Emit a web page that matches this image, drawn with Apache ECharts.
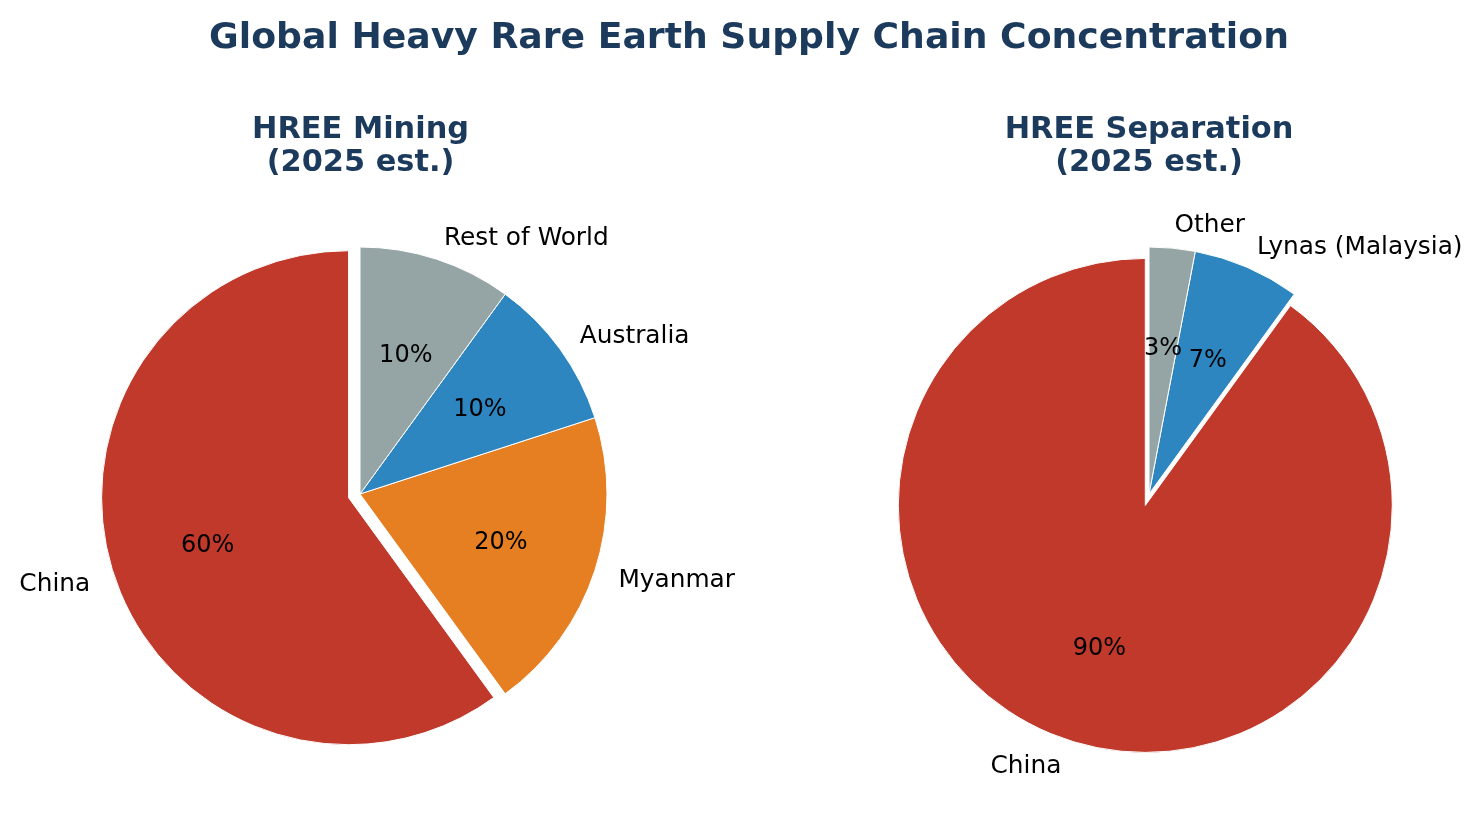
<!DOCTYPE html>
<html>
<head>
<meta charset="utf-8">
<script src="https://cdn.jsdelivr.net/npm/echarts@6/dist/echarts.min.js"></script>
<style>
html,body{margin:0;padding:0;background:#fff;}
#chart{width:1484px;height:822px;}
</style>
</head>
<body>
<div id="chart"></div>
<script>
const mainTitle = 'Global Heavy Rare Earth Supply Chain Concentration';
const miningTitle = 'HREE Mining\n(2025 est.)';
const separationTitle = 'HREE Separation\n(2025 est.)';

const miningCategories = ['China', 'Myanmar', 'Australia', 'Rest of World'];
const miningValues = [60, 20, 10, 10];
const miningColors = ['#c0392b', '#e67e22', '#2e86c1', '#95a5a6'];
const miningExploded = ['China'];

const separationCategories = ['China', 'Lynas (Malaysia)', 'Other'];
const separationValues = [90, 7, 3];
const separationColors = ['#c0392b', '#2e86c1', '#95a5a6'];
const separationExploded = ['China'];

const FONT = 'DejaVu Sans';
const R = 247;
const EXPLODE = 12;

function buildData(cats, vals, colors, exploded, transparent) {
  return cats.map((c, i) => ({
    name: c,
    value: vals[i],
    selected: exploded.indexOf(c) >= 0,
    itemStyle: transparent ? { color: 'rgba(0,0,0,0)', borderWidth: 0 } : { color: colors[i] }
  }));
}

function pieSeries(center, cats, vals, colors, exploded) {
  return [
    {
      type: 'pie',
      center: center,
      radius: [0, R],
      startAngle: 90,
      clockwise: false,
      selectedMode: 'multiple',
      selectedOffset: EXPLODE,
      avoidLabelOverlap: false,
      animation: false,
      emphasis: { disabled: true },
      itemStyle: { borderColor: '#ffffff', borderWidth: 1 },
      label: {
        show: true,
        position: 'outside',
        formatter: p => '{t|' + p.name + '}',
        rich: {
          t: { fontFamily: FONT, fontSize: 24.8, color: '#000', padding: [5, 0, 0, 0] }
        },
        fontFamily: FONT,
        fontSize: 24.8,
        color: '#000',
        distanceToLabelLine: 0,
        overflow: 'none'
      },
      labelLine: { show: false, length: R * 0.1, length2: 0 },
      data: buildData(cats, vals, colors, exploded, false),
      z: 2
    },
    {
      type: 'pie',
      center: center,
      // inside labels sit at (r0 + r) / 2 + 3 px; this places them at 0.6 r
      radius: [R * 0.2 - 6, R],
      startAngle: 90,
      clockwise: false,
      selectedMode: 'multiple',
      selectedOffset: EXPLODE,
      avoidLabelOverlap: false,
      animation: false,
      silent: true,
      emphasis: { disabled: true },
      label: {
        show: true,
        position: 'inside',
        formatter: p => '{t|' + Math.round(p.percent) + '%}',
        rich: {
          t: { fontFamily: FONT, fontSize: 24, color: '#000', padding: [5, 0, 0, 0] }
        },
        fontFamily: FONT,
        fontSize: 24,
        color: '#000'
      },
      labelLine: { show: false },
      data: buildData(cats, vals, colors, exploded, true),
      z: 3
    }
  ];
}

const chart = echarts.init(document.getElementById('chart'), null, { renderer: 'canvas' });
chart.setOption({
  backgroundColor: '#ffffff',
  animation: false,
  title: [
    {
      text: mainTitle,
      left: 749, top: 20.5, textAlign: 'center', padding: 0,
      textStyle: { fontFamily: FONT, fontSize: 36.2, fontWeight: 'bold', color: '#1b3a5c', lineHeight: 36 }
    },
    {
      text: miningTitle,
      left: 360.5, top: 114, textAlign: 'center', padding: 0,
      textStyle: { fontFamily: FONT, fontSize: 30.4, fontWeight: 'bold', color: '#1b3a5c', lineHeight: 33, align: 'center' }
    },
    {
      text: separationTitle,
      left: 1149, top: 114, textAlign: 'center', padding: 0,
      textStyle: { fontFamily: FONT, fontSize: 30.4, fontWeight: 'bold', color: '#1b3a5c', lineHeight: 33, align: 'center' }
    }
  ],
  series: [].concat(
    pieSeries([360, 494], miningCategories, miningValues, miningColors, miningExploded),
    pieSeries([1149, 494], separationCategories, separationValues, separationColors, separationExploded)
  )
});
</script>
</body>
</html>
